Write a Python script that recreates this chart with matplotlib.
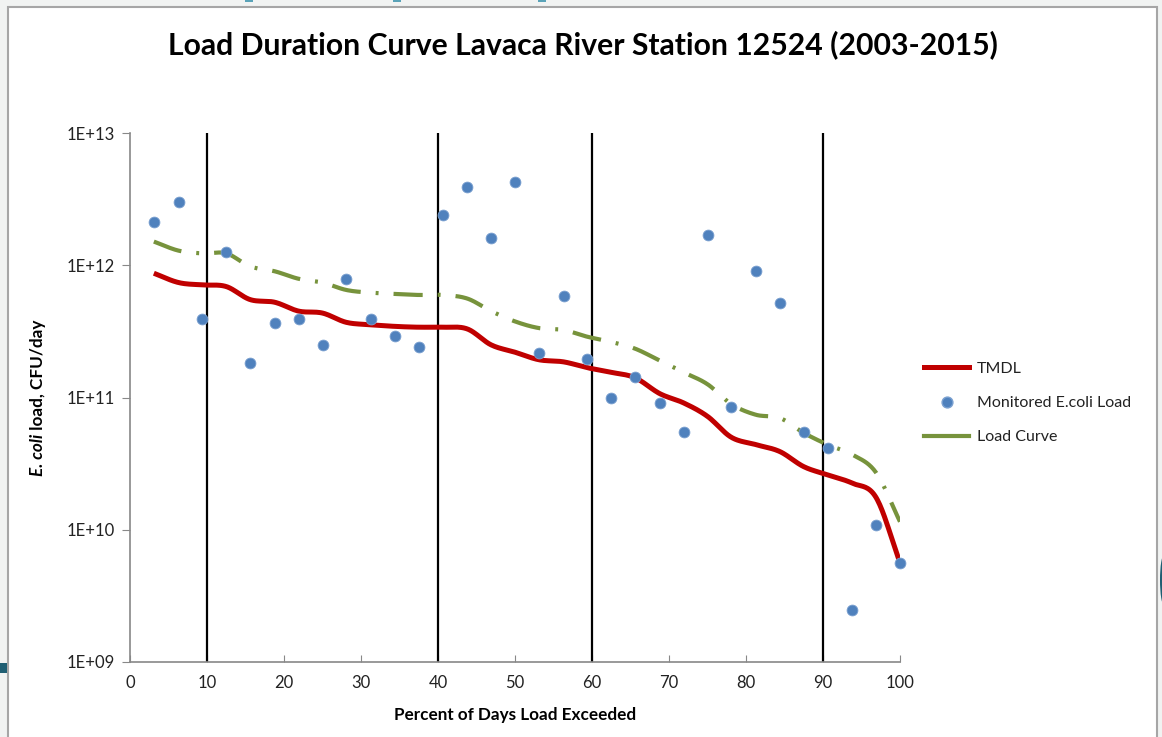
import numpy as np
import matplotlib
matplotlib.use("Agg")
import matplotlib.pyplot as plt
from matplotlib.patches import Rectangle, Ellipse
from matplotlib.lines import Line2D

# ---------------- data ----------------
pct = [3.1, 6.3, 9.4, 12.5, 15.6, 18.8, 21.9, 25.0, 28.1, 31.3, 34.4, 37.5,
       40.6, 43.8, 46.9, 50.0, 53.1, 56.3, 59.4, 62.5, 65.6, 68.8, 71.9, 75.0,
       78.1, 81.3, 84.4, 87.5, 90.6, 93.8, 96.9, 100.0]

monitored = [2.12e12, 3.0e12, 3.93e11, 1.26e12, 1.82e11, 3.66e11, 3.93e11, 2.49e11,
             7.87e11, 3.93e11, 2.92e11, 2.41e11, 2.4e12, 3.9e12, 1.61e12, 4.26e12,
             2.17e11, 5.86e11, 1.95e11, 9.9e10, 1.43e11, 9.1e10, 5.5e10, 1.69e12,
             8.5e10, 9.05e11, 5.19e11, 5.5e10, 4.15e10, 2.47e9, 1.09e10, 5.6e9]

tmdl = [8.7e11, 7.4e11, 7.1e11, 6.9e11, 5.5e11, 5.25e11, 4.5e11, 4.35e11,
        3.7e11, 3.55e11, 3.45e11, 3.4e11, 3.4e11, 3.3e11, 2.5e11, 2.2e11,
        1.93e11, 1.86e11, 1.68e11, 1.55e11, 1.41e11, 1.07e11, 9.1e10, 7.2e10,
        5.0e10, 4.4e10, 3.9e10, 3.0e10, 2.6e10, 2.25e10, 1.75e10, 5.6e9]

load_curve = [1.51e12, 1.29e12, 1.23e12, 1.23e12, 9.8e11, 9.0e11, 7.9e11, 7.4e11,
              6.5e11, 6.2e11, 6.07e11, 5.96e11, 5.96e11, 5.6e11, 4.5e11, 3.76e11,
              3.35e11, 3.24e11, 2.88e11, 2.63e11, 2.34e11, 1.9e11, 1.55e11, 1.26e11,
              8.9e10, 7.4e10, 7.0e10, 5.4e10, 4.4e10, 3.7e10, 2.7e10, 1.15e10]

flow_breaks = [10, 40, 60, 90]
x_ticks = [0, 10, 20, 30, 40, 50, 60, 70, 80, 90, 100]
y_ticks = [1e9, 1e10, 1e11, 1e12, 1e13]
y_ticklabels = ["1E+09", "1E+10", "1E+11", "1E+12", "1E+13"]

title = "Load Duration Curve Lavaca River Station 12524 (2003-2015)"
xlabel = "Percent of Days Load Exceeded"
ylabel_italic = "E. coli"
ylabel_rest = " load, CFU/day"
legend_labels = ["TMDL", "Monitored E.coli Load", "Load Curve"]


# ------------- smoothing (Excel-like smoothed line rendering) -------------
def smooth(xs, ys, n=20):
    x = np.asarray(xs, float)
    y = np.log10(np.asarray(ys, float))
    px = np.concatenate([[2 * x[0] - x[1]], x, [2 * x[-1] - x[-2]]])
    py = np.concatenate([[2 * y[0] - y[1]], y, [2 * y[-1] - y[-2]]])
    ox, oy = [], []
    t = np.linspace(0, 1, n, endpoint=False)
    for i in range(1, len(px) - 2):
        for arr, out in ((px, ox), (py, oy)):
            p0, p1, p2, p3 = arr[i - 1], arr[i], arr[i + 1], arr[i + 2]
            out.extend(0.5 * ((2 * p1) + (-p0 + p2) * t +
                              (2 * p0 - 5 * p1 + 4 * p2 - p3) * t ** 2 +
                              (-p0 + 3 * p1 - 3 * p2 + p3) * t ** 3))
    ox.append(x[-1]); oy.append(y[-1])
    return np.array(ox), 10 ** np.array(oy)


W, H = 1162, 737
fig = plt.figure(figsize=(W / 100, H / 100), dpi=100)
fig.patch.set_facecolor("#f1f3f2")
FONT = "Lato"
plt.rcParams["font.family"] = [FONT, "DejaVu Sans"]

# white chart area with grey border
fig.patches.append(Rectangle((8 / W, -0.05), (1157 - 8) / W, 1.05 - 7 / H,
                             transform=fig.transFigure, facecolor="white",
                             edgecolor="#a6a6a6", linewidth=1.5, zorder=-5))
# slide artefacts
teal = "#1f5f73"
fig.patches.append(Rectangle((0, (H - 673) / H), 7 / W, 10 / H, transform=fig.transFigure,
                             facecolor=teal, edgecolor="none", zorder=-4))
fig.patches.append(Ellipse((1164 / W, (H - 580) / H), 8 / W, 50 / H, transform=fig.transFigure,
                           facecolor=teal, edgecolor="none", zorder=-4))
for xx in (245, 393, 538):
    fig.patches.append(Rectangle((xx / W, (H - 2) / H), 8 / W, 2 / H, transform=fig.transFigure,
                                 facecolor="#5aa3b8", edgecolor="none", zorder=-4))

ax = fig.add_axes([130 / W, (H - 662) / H, 770 / W, 529 / H])
ax.set_zorder(2)
ax.set_facecolor("white")
ax.set_yscale("log")
ax.set_xlim(0, 100)
ax.set_ylim(1e9, 1e13)

for xb in flow_breaks:
    ax.axvline(xb, color="black", linewidth=1.6, zorder=2)

sx, sy = smooth(pct, load_curve)
ax.plot(sx, sy, color="#77933c", linewidth=3.0, dashes=(7.0, 3.6, 0.7, 3.6),
        dash_capstyle="butt", zorder=3)
tx, ty = smooth(pct, tmdl)
ax.plot(tx, ty, color="#c00000", linewidth=3.6, solid_capstyle="butt", zorder=4)
ax.plot(pct, monitored, linestyle="none", marker="o", markersize=7.8,
        markerfacecolor="#4f81bd", markeredgecolor="#7aa0d0", markeredgewidth=0.6,
        zorder=5, clip_on=False)

for s in ("top", "right"):
    ax.spines[s].set_visible(False)
for s in ("left", "bottom"):
    ax.spines[s].set_color("#888888")
    ax.spines[s].set_linewidth(1.2)

ax.set_xticks(x_ticks)
ax.set_xticklabels([str(v) for v in x_ticks])
ax.set_yticks(y_ticks)
ax.set_yticklabels(y_ticklabels)
ax.minorticks_off()
ax.tick_params(axis="x", direction="in", length=5, color="#888888", labelsize=12,
               pad=9, labelcolor="#222222")
ax.tick_params(axis="y", direction="out", length=6, color="#888888", labelsize=12,
               pad=5, labelcolor="#222222")

ax.set_xlabel(xlabel, fontsize=12.3, fontweight="bold", labelpad=12)

# title auto-fit to width
t = fig.text(583 / W, (H - 45) / H, title, ha="center", va="center",
             fontsize=20, fontweight="bold", color="black")
fig.canvas.draw()
r = fig.canvas.get_renderer()
w = t.get_window_extent(r).width
t.set_fontsize(20 * 830 / w)

# y label in two parts (italic + regular bold)
y_center = H - 398
t1 = fig.text(38 / W, 0, ylabel_italic, rotation=90, ha="center", va="bottom",
              fontsize=12.3, fontweight="bold", fontstyle="italic")
t2 = fig.text(38 / W, 0, ylabel_rest, rotation=90, ha="center", va="bottom",
              fontsize=12.3, fontweight="bold")
fig.canvas.draw()
h1 = t1.get_window_extent(r).height
h2 = t2.get_window_extent(r).height
start = y_center - (h1 + h2) / 2
t1.set_y(start / H)
t2.set_y((start + h1) / H)

handles = [Line2D([], [], color="#c00000", linewidth=3.6),
           Line2D([], [], linestyle="none", marker="o", markersize=7.8,
                  markerfacecolor="#4f81bd", markeredgecolor="#7aa0d0"),
           Line2D([], [], color="#77933c", linewidth=3.0)]
leg = fig.legend(handles, legend_labels, loc="center left",
                 bbox_to_anchor=(910 / W, (H - 403) / H), frameon=False,
                 fontsize=11.5, handlelength=2.8, handletextpad=0.5, labelspacing=1.25)
for txt in leg.get_texts():
    txt.set_color("#222222")

fig.savefig("out.png", dpi=100, facecolor=fig.get_facecolor())
